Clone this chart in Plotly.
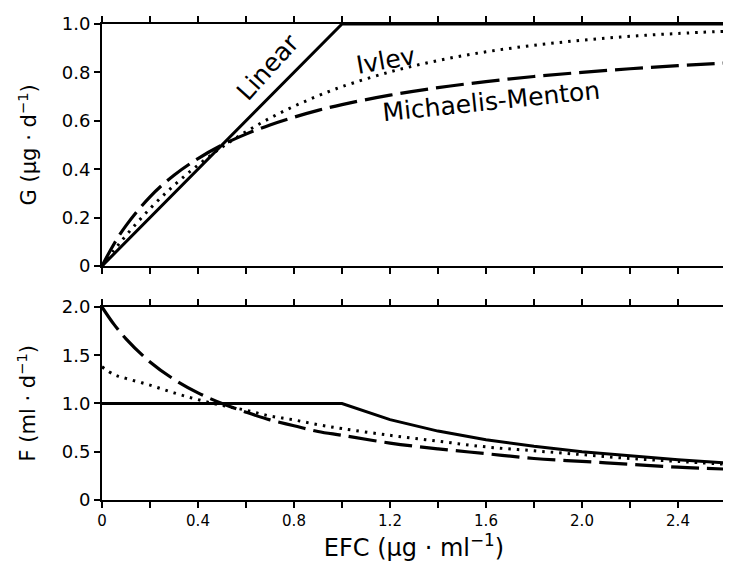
import plotly.graph_objects as go
from plotly.subplots import make_subplots

# EFC sample points (µg/ml)
efc = [0, 0.05, 0.1, 0.2, 0.3, 0.4, 0.5, 0.6, 0.7, 0.8, 0.9, 1.0,
       1.2, 1.4, 1.6, 1.8, 2.0, 2.2, 2.4, 2.6]

# Top panel: G (µg/d)
g_linear = [0, 0.05, 0.1, 0.2, 0.3, 0.4, 0.5, 0.6, 0.7, 0.8, 0.9, 1.0,
            1.0, 1.0, 1.0, 1.0, 1.0, 1.0, 1.0, 1.0]
g_ivlev = [0, 0.065, 0.126, 0.237, 0.333, 0.417, 0.491, 0.555, 0.611, 0.66, 0.703, 0.741,
           0.802, 0.849, 0.885, 0.912, 0.933, 0.949, 0.961, 0.97]
g_mm = [0, 0.091, 0.167, 0.286, 0.375, 0.444, 0.5, 0.545, 0.583, 0.615, 0.643, 0.667,
        0.706, 0.737, 0.762, 0.783, 0.8, 0.815, 0.828, 0.839]

# Bottom panel: F (ml/d)
f_linear = [1.0, 1.0, 1.0, 1.0, 1.0, 1.0, 1.0, 1.0, 1.0, 1.0, 1.0, 1.0,
            0.833, 0.714, 0.625, 0.556, 0.5, 0.455, 0.417, 0.385]
f_ivlev = [1.38, 1.30, 1.26, 1.19, 1.11, 1.04, 0.98, 0.93, 0.87, 0.83, 0.78, 0.74,
           0.67, 0.61, 0.55, 0.51, 0.47, 0.43, 0.40, 0.37]
f_mm = [2.0, 1.82, 1.67, 1.43, 1.25, 1.11, 1.0, 0.91, 0.83, 0.77, 0.71, 0.67,
        0.59, 0.53, 0.48, 0.43, 0.40, 0.37, 0.34, 0.32]

x_tickvals = [0, 0.4, 0.8, 1.2, 1.6, 2.0, 2.4]
x_ticktext = ["0", "0.4", "0.8", "1.2", "1.6", "2.0", "2.4"]
g_tickvals = [0, 0.2, 0.4, 0.6, 0.8, 1.0]
g_ticktext = ["0", "0.2", "0.4", "0.6", "0.8", "1.0"]
f_tickvals = [0, 0.5, 1.0, 1.5, 2.0]
f_ticktext = ["0", "0.5", "1.0", "1.5", "2.0"]

FONT = "DejaVu Sans, Verdana, sans-serif"

fig = make_subplots(rows=2, cols=1, shared_xaxes=False, vertical_spacing=0.08)

solid = dict(color="black", width=3)
dotted = dict(color="black", width=3, dash="2.5px,6px")
dashed = dict(color="black", width=3.2, dash="28px,8px")

fig.add_trace(go.Scatter(x=efc, y=g_linear, mode="lines", line=solid, name="Linear"), row=1, col=1)
fig.add_trace(go.Scatter(x=efc, y=g_ivlev, mode="lines", line=dict(dotted, shape="spline"), name="Ivlev"), row=1, col=1)
fig.add_trace(go.Scatter(x=efc, y=g_mm, mode="lines", line=dict(dashed, shape="spline"), name="Michaelis-Menton"), row=1, col=1)

fig.add_trace(go.Scatter(x=efc, y=f_linear, mode="lines", line=solid, name="Linear"), row=2, col=1)
fig.add_trace(go.Scatter(x=efc, y=f_ivlev, mode="lines", line=dict(dotted, shape="spline"), name="Ivlev"), row=2, col=1)
fig.add_trace(go.Scatter(x=efc, y=f_mm, mode="lines", line=dict(dashed, shape="spline"), name="Michaelis-Menton"), row=2, col=1)

axis_common = dict(
    showline=True, linecolor="black", linewidth=2, mirror="ticks",
    ticks="outside", ticklen=6, tickwidth=1.5, tickcolor="black",
    showgrid=False, zeroline=False, automargin=False,
)

fig.update_xaxes(axis_common, range=[0, 2.6], tickvals=x_tickvals, ticktext=x_ticktext,
                 tickfont=dict(family=FONT, size=15, color="black"),
                 minor=dict(dtick=0.2, tick0=0, ticks="outside", ticklen=6, tickwidth=1.5, tickcolor="black"))
fig.update_xaxes(showticklabels=False, row=1, col=1)
fig.update_xaxes(title=dict(text="EFC (\u03bcg \u00b7 ml<sup>\u22121</sup>)",
                            font=dict(family=FONT, size=24, color="black"), standoff=2), row=2, col=1)

fig.update_yaxes(axis_common, tickfont=dict(family=FONT, size=18, color="black"))
fig.update_yaxes(range=[0, 1.0], tickvals=g_tickvals, ticktext=g_ticktext, row=1, col=1)
fig.update_yaxes(range=[0, 2.0], tickvals=f_tickvals, ticktext=f_ticktext, row=2, col=1)

fig.update_layout(
    xaxis=dict(domain=[0, 1]), xaxis2=dict(domain=[0, 1]),
    yaxis=dict(domain=[0.4916, 1.0]), yaxis2=dict(domain=[0.0, 0.4055]),
)

title_font = dict(family=FONT, size=21, color="black")
fig.add_annotation(xref="paper", yref="paper", x=0, y=0.745, xshift=-74,
                   text="G (\u03bcg \u00b7 d<sup>\u22121</sup>)", textangle=-90,
                   showarrow=False, font=title_font, xanchor="center", yanchor="middle")
fig.add_annotation(xref="paper", yref="paper", x=0, y=0.4055 / 2, xshift=-75,
                   text="F (ml \u00b7 d<sup>\u22121</sup>)", textangle=-90,
                   showarrow=False, font=title_font, xanchor="center", yanchor="middle")

ann_font = dict(family=FONT, size=25, color="black")
fig.add_annotation(x=0.69, y=0.82, xref="x", yref="y", text="Linear", showarrow=False,
                   textangle=-48, font=ann_font)
fig.add_annotation(x=1.18, y=0.85, xref="x", yref="y", text="Ivlev", showarrow=False,
                   textangle=-10, font=ann_font)
fig.add_annotation(x=1.62, y=0.68, xref="x", yref="y", text="Michaelis-Menton", showarrow=False,
                   textangle=-6, font=ann_font)

# the page body adds an 8px offset, so margins are shifted to match the reference frame
fig.update_layout(
    width=731, height=571,
    margin=dict(l=94, r=13, t=16, b=79),
    paper_bgcolor="white", plot_bgcolor="white",
    showlegend=False,
    font=dict(family=FONT, color="black"),
)

fig.write_html("out.html")
